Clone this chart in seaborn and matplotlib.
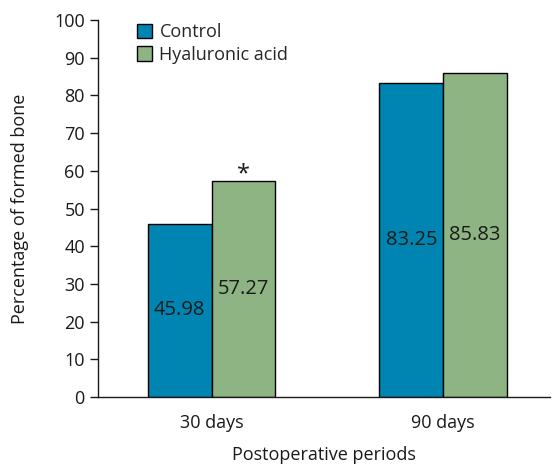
import pandas as pd
import matplotlib.pyplot as plt
import seaborn as sns

periods = ['30 days', '90 days']
groups = ['Control', 'Hyaluronic acid']
control = [45.98, 83.25]
hyaluronic = [57.27, 85.83]
colors = ['#0085B2', '#8FB484']

df = pd.DataFrame({
    'period': periods * 2,
    'group': [groups[0]] * 2 + [groups[1]] * 2,
    'value': control + hyaluronic,
})

sns.set_style('ticks')
plt.rcParams['font.family'] = ['Open Sans', 'DejaVu Sans']

fig = plt.figure(figsize=(5.57, 4.65), dpi=100)
ax = fig.add_axes([0.176, 0.146, 0.811, 0.811])
sns.barplot(data=df, x='period', y='value', hue='group', palette=colors,
            saturation=1, width=0.55, edgecolor='black', linewidth=1,
            ax=ax, legend=True)

for cont in ax.containers:
    for bar in cont:
        h = bar.get_height()
        ax.text(bar.get_x() + bar.get_width() / 2, h / 2, f'{h:.2f}',
                ha='center', va='center', fontsize=14.5, color='#1a1a1a')

# significance mark
star_bar = ax.containers[1][0]
ax.text(star_bar.get_x() + star_bar.get_width() / 2, star_bar.get_height() - 1.5,
        '*', ha='center', va='bottom', fontsize=17, color='#1a1a1a')

ax.set_ylim(0, 100)
ax.set_xlim(-0.49, 1.46)
ax.set_yticks(range(0, 101, 10))
ax.tick_params(axis='both', labelsize=13, length=6, width=1, colors='#1a1a1a')
ax.tick_params(axis='x', length=0, pad=12)
ax.set_xlabel('Postoperative periods', fontsize=13, color='#1a1a1a', labelpad=10)
ax.set_ylabel('Percentage of formed bone', fontsize=13, color='#1a1a1a', labelpad=18)
for s in ['top', 'right']:
    ax.spines[s].set_visible(False)
for s in ['left', 'bottom']:
    ax.spines[s].set_color('#1a1a1a')
    ax.spines[s].set_linewidth(1)

leg = ax.legend(loc='upper left', bbox_to_anchor=(0.05, 1.035), frameon=False,
                fontsize=13, handlelength=0.85, handleheight=0.85,
                handletextpad=0.4, labelspacing=0.25)
for p in leg.get_patches():
    p.set_edgecolor('black')

fig.savefig('out.png', dpi=100)
